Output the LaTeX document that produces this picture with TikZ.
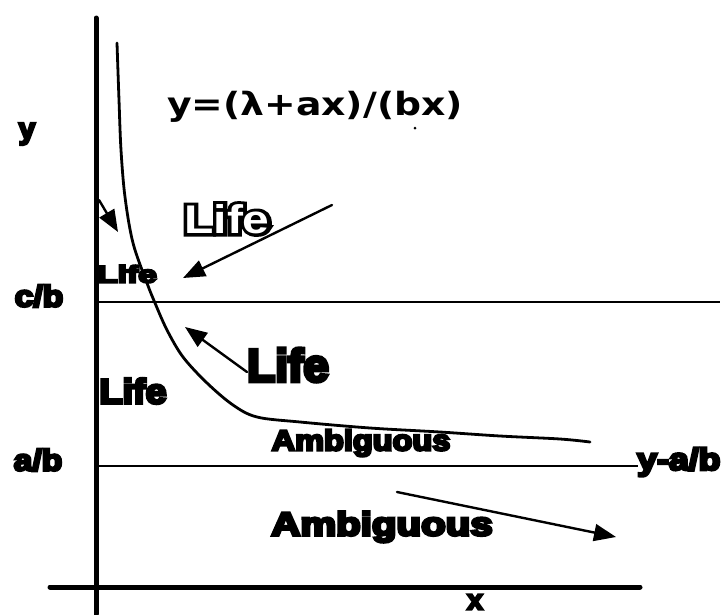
\documentclass[tikz,border=0pt]{standalone}
\usepackage{fontspec}
\usetikzlibrary{arrows.meta}
\newfontfamily\blob[FakeBold=8]{Liberation Sans}
\newfontfamily\outerfont[FakeBold=16]{Liberation Sans}
\newfontfamily\innerfont{Liberation Sans}
\newfontfamily\eqfont{DejaVu Sans}
\tikzset{
  axisline/.style={line width=5pt, line cap=round},
  guide/.style={line width=2.4pt},
  curveline/.style={line width=2.8pt, line cap=round},
  pointer/.style={line width=2.4pt, line cap=round, -{Triangle[length=22pt,width=17pt]}},
  lbl/.style={inner sep=0pt, font=\blob\bfseries},
}
\newcommand{\fs}[1]{\fontsize{#1}{#1}\selectfont}
\begin{document}
\begin{tikzpicture}[x=1pt,y=-1pt]
\useasboundingbox (0,0) rectangle (728,614);
% axes
\coordinate (ytop) at (96,18);
\coordinate (ybot) at (96,614);
\coordinate (xl) at (50,587);
\coordinate (xr) at (640,587);
\draw[axisline] (ytop) -- (ybot);
\draw[axisline] (xl) -- (xr);
% guide lines
\coordinate (cbl) at (96,302);
\coordinate (cbr) at (720,302);
\coordinate (abl) at (96,466);
\coordinate (abr) at (638,466);
\draw[guide] (cbl) -- (cbr);
\draw[guide] (abl) -- (abr);
% curve
\draw[curveline] plot[smooth, tension=0.55] coordinates {
 (117,43) (119,100) (121,150) (125,197) (133,243) (147,283) (155,303)
 (167,330) (183,357) (207,383) (233,405) (257,417) (300,422) (370,428)
 (440,432) (500,436) (560,439) (590,442)};
% axis labels
\node[lbl] (ylab) at (27,134) {\fs{30}y};
\node[lbl] (xlab) at (475,602) {\fs{28}x};
\node[lbl] (cb) at (39,296) {\scalebox{1.12}[1]{\fs{30}c/b}};
\node[lbl] (ab) at (38,460) {\scalebox{1.12}[1]{\fs{30}a/b}};
\node[lbl, anchor=west] (yab) at (637,462) {\scalebox{1.15}[1]{\fs{31}y-a/b}};
% equation
\node[inner sep=0pt, font=\eqfont\bfseries] (eq) at (315,107) {\scalebox{1.18}[1]{\fs{32}y=(λ+ax)/(bx)}};
\fill (415,128) circle (1.5);
% outlined Life
\node[inner sep=0pt, font=\outerfont\bfseries, text=black] (lifetopbg) at (227,219) {\scalebox{1.2}[1]{\fs{40}Life}};
\node[inner sep=0pt, font=\innerfont\bfseries, text=white] (lifetop) at (lifetopbg.center) {\scalebox{1.2}[1]{\fs{40}Life}};
% other labels
\node[lbl] (lifesmall) at (127,274) {\scalebox{1.4}[1]{\fs{24}Life}};
\node[lbl] (lifemid) at (288,365) {\fs{46}Life};
\node[lbl] (lifeleft) at (133,391) {\scalebox{1.08}[1]{\fs{35}Life}};
\node[lbl] (ambup) at (361,443) {\scalebox{1.12}[1]{\fs{29}Ambiguous}};
\node[lbl] (amblow) at (382,527) {\scalebox{1.22}[1]{\fs{33}Ambiguous}};
% arrows
\coordinate (a1s) at (332,205);
\coordinate (a1e) at (183,278);
\coordinate (a2s) at (247,372);
\coordinate (a2e) at (185,327);
\coordinate (a3s) at (397,492);
\coordinate (a3e) at (616,537);
\coordinate (a4s) at (99,200);
\coordinate (a4e) at (118,232);
\draw[pointer] (a1s) -- (a1e);
\draw[pointer] (a2s) -- (a2e);
\draw[pointer] (a3s) -- (a3e);
\draw[pointer] (a4s) -- (a4e);
\end{tikzpicture}
\end{document}
